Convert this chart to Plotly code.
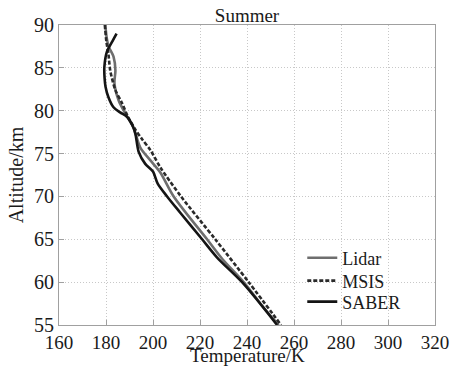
import plotly.graph_objects as go

# Lidar temperature profile (K) vs altitude (km)
lidar_temp = [179.7, 180.3, 181.1, 183.2, 184.0, 183.6, 185.4, 188.2, 191.6, 194.6, 198.9, 203.1, 208.8, 223.0, 229.5, 238.6, 247.1, 253.5]
lidar_alt = [90.0, 88.5, 87.5, 86.3, 84.7, 83.2, 81.2, 79.7, 78.1, 75.7, 74.2, 72.8, 70.0, 65.0, 62.7, 60.0, 57.0, 55.0]

# MSIS model profile
msis_temp = [179.5, 180.2, 181.0, 181.8, 184.0, 186.8, 189.5, 192.5, 195.3, 198.9, 203.1, 211.9, 226.5, 240.7, 254.5]
msis_alt = [90.0, 88.0, 86.7, 84.7, 82.4, 80.9, 79.2, 77.8, 76.7, 75.4, 73.4, 70.0, 65.0, 60.0, 55.0]

# SABER profile
saber_temp = [184.5, 182.5, 180.4, 179.3, 179.4, 179.8, 181.0, 183.2, 186.0, 188.9, 191.2, 192.5, 193.9, 196.7, 200.0, 202.0, 206.0, 211.6, 220.9, 227.2, 237.9, 246.5, 252.8]
saber_alt = [89.0, 88.0, 86.9, 85.1, 83.8, 82.8, 81.6, 80.4, 79.8, 79.3, 78.3, 77.3, 75.2, 73.8, 72.9, 71.5, 70.0, 68.1, 65.0, 62.9, 60.0, 57.2, 55.0]

x_ticks = [160, 180, 200, 220, 240, 260, 280, 300, 320]
y_ticks = [55, 60, 65, 70, 75, 80, 85, 90]

FONT = "Liberation Serif"
TXT = "#1a1a1a"

fig = go.Figure()
fig.add_trace(go.Scatter(x=lidar_temp, y=lidar_alt, mode="lines", name="Lidar", legend="legend",
                         line=dict(color="#6e6e6e", width=2.6, shape="spline", smoothing=0.8)))
fig.add_trace(go.Scatter(x=msis_temp, y=msis_alt, mode="lines", name="MSIS", legend="legend2",
                         line=dict(color="#2a2a2a", width=2.6, dash="4px,2px", shape="spline", smoothing=0.8)))
fig.add_trace(go.Scatter(x=saber_temp, y=saber_alt, mode="lines", name="SABER", legend="legend3",
                         line=dict(color="#141414", width=2.6, shape="spline", smoothing=0.8)))

axis_common = dict(
    showline=True, linecolor="#a0a0a0", linewidth=1.2, mirror=True,
    ticks="inside", ticklen=5, tickcolor="#a0a0a0", tickwidth=1,
    showgrid=True, gridcolor="#c8c8c8", gridwidth=1, griddash="1px,2px",
    zeroline=False, automargin=False,
)

fig.update_xaxes(range=[160, 320], tickvals=x_ticks, ticktext=[str(v) for v in x_ticks],
                 tickfont=dict(family=FONT, size=19, color=TXT), **axis_common)
fig.update_yaxes(range=[55, 90], tickvals=y_ticks, ticktext=[str(v) for v in y_ticks],
                 tickfont=dict(family=FONT, size=20, color=TXT),
                 title=dict(text="Altitude/km", font=dict(family=FONT, size=20, color=TXT), standoff=4),
                 **axis_common)

leg_common = dict(xanchor="left", yanchor="middle", x=0.647,
                  bgcolor="rgba(0,0,0,0)", borderwidth=0,
                  font=dict(family=FONT, size=18, color=TXT), itemwidth=30)

fig.update_layout(
    width=451, height=366,
    margin=dict(l=59, r=16, t=25, b=41),
    paper_bgcolor="white", plot_bgcolor="white",
    title=dict(text="Summer", x=0.5477, xanchor="center", y=0.957, yanchor="middle",
               font=dict(family=FONT, size=19, color=TXT)),
    legend=dict(y=0.223, **leg_common),
    legend2=dict(y=0.147, **leg_common),
    legend3=dict(y=0.077, **leg_common),
    showlegend=True,
    annotations=[dict(text="Temperature/K", xref="paper", yref="paper", x=0.5, y=-0.101,
                      xanchor="center", yanchor="middle", showarrow=False,
                      font=dict(family=FONT, size=19, color=TXT))],
)

fig.write_html("out.html", config={"displayModeBar": False},
               post_script="document.body.style.margin='0';document.body.style.overflow='hidden';")
